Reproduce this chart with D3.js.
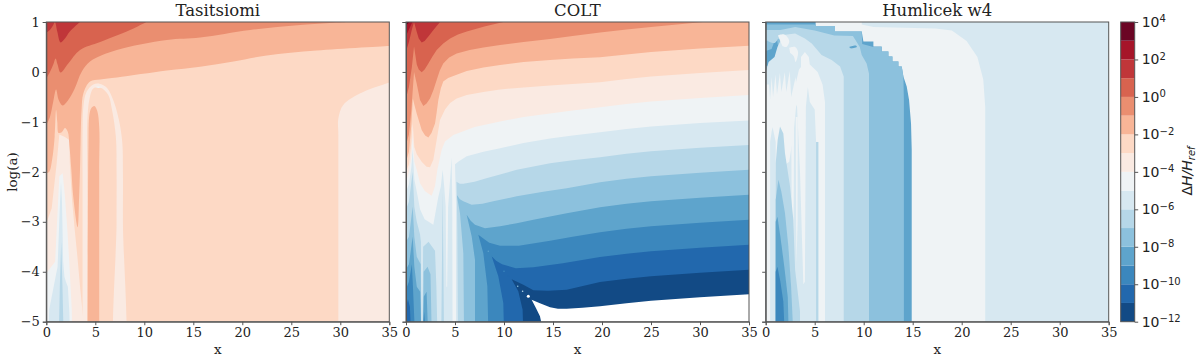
<!DOCTYPE html>
<html>
<head>
<meta charset="utf-8">
<script src="https://cdn.jsdelivr.net/npm/d3@7"></script>
<style>
  html, body { margin: 0; padding: 0; background: #fff; }
  svg { display: block; }
  text { font-family: "DejaVu Serif", serif; fill: #222; }
  .domain, .tick line { stroke: #555; }
</style>
</head>
<body>
<div id="chart"></div>
<script>

//==================================== data ====================================

var titles = ["Tasitsiomi", "COLT", "Humlicek w4"];
var xTicks = [0, 5, 10, 15, 20, 25, 30, 35];
var yTicks = [1, 0, -1, -2, -3, -4, -5];
var barTicks = [4, 2, 0, -2, -4, -6, -8, -10, -12];
var barLevels = d3.range(-12, 4);   // log10(dH/Href) at the bottom of each band

// every boundary is [x, log(a)], the side above it is >= the named level

// Tasitsiomi
var tasGe1 = [[0,.79],[.37,.84],[.71,.94],[.88,1],[1.12,.81],[1.46,.59],[1.9,.67],[2.4,.81],[3.44,1]];
var tasGe0 = [[0,-.13],[.37,0],[.71,.15],[.95,.27],[1.15,.15],[1.46,-.01],[2.24,.17],[3.44,.44],[5.5,.6],[8.9,.87],[10.2,1]];
var tasGeM1 = [[0,-1.06],[.37,-.9],[.7,-.6],[1,-.35],[1.25,-.55],[1.67,-.67],[2.24,-.56],[2.9,-.33],[3.6,0],[4.46,.21],[7.2,.44],[12.3,.64],[15.7,.69],[20.8,.84],[25.9,.94],[30.7,1]];
var tasGeM2 = [[0,-2.03],[.3,-2],[.6,-1.75],[.85,-1.3],[1,-.76],[1.12,-1],[1.25,-1.22],[1.6,-1.2],[1.9,-1.12],[2.2,-1.2],[2.35,-1.45],[2.55,-1.95],[2.75,-2.5],[3.2,-3.11],[3.35,-2.5],[3.44,-1.95],[3.5,-1.4],[3.6,-.76],[3.78,-.43],[4.46,-.19],[5.5,-.15],[7.2,-.11],[12.3,.03],[15.7,.106],[19.1,.21],[22.5,.33],[27.6,.43],[35,.52]];

// closed patches of Tasitsiomi, level is the band bottom
var tasCorner = [[29.8,-6],[29.8,-3],[29.8,-1.27],[29.8,-.93],[30.3,-.66],[32,-.43],[35,-.21],[36,-.15],[36,-6]];
var tasArch = [[3.7,-6],[3.7,-2],[3.7,-1.2],[3.78,-.7],[4.1,-.4],[4.8,-.25],[5.5,-.24],[6.2,-.32],[6.9,-.6],[7.4,-.95],[7.75,-1.4],[7.82,-2],[7.82,-3],[7.82,-6],[7.17,-6],[7.17,-3],[7.17,-2],[7.1,-1.3],[6.7,-.75],[6.3,-.45],[5.5,-.31],[4.8,-.33],[4.4,-.55],[4.18,-1],[4.18,-2],[4.18,-6]];
var tasSpeck = [[4.9,-.3],[5.3,-.29],[5.7,-.3],[5.3,-.32]];
var tasBar = [[4.2,-6],[4.25,-3],[4.3,-1.5],[4.4,-.85],[4.6,-.72],[4.9,-.68],[5.2,-.78],[5.4,-1.1],[5.4,-2],[5.4,-6]];
var tasPlume4 = [[0,-6],[0,-3.03],[.55,-2.73],[1.06,-1.83],[1.33,-1.25],[1.9,-1.3],[2.35,-1.36],[2.4,-1.83],[2.6,-2.5],[2.9,-3.16],[3.17,-3.69],[3.44,-4.29],[3.78,-4.96],[3.8,-6]];
var tasPlume5 = [[0,-6],[0,-4.03],[.55,-3.89],[.9,-3.8],[1.06,-3.16],[1.33,-2.09],[1.67,-2.03],[1.9,-2.49],[2.15,-3.16],[2.35,-3.83],[2.6,-4.76],[2.7,-6]];
var tasPlume6 = [[.1,-6],[.3,-4.75],[.7,-4.35],[1.15,-3.9],[1.4,-2.6],[1.5,-2.2],[1.6,-2.6],[1.72,-3.8],[1.85,-4.1],[2,-4.2],[2.2,-4.3],[2.35,-4.8],[2.5,-6]];
var tasPlume7 = [[1.2,-6],[1.38,-4.3],[1.52,-3.4],[1.65,-4.3],[1.85,-6]];

// COLT
var coltGe3 = [[0,.93],[.2,.97],[.35,1]];
var coltGe2 = [[0,.72],[.3,.85],[.65,1]];
var coltGe1 = [[0,.41],[.3,.6],[.6,.85],[.82,1],[1.1,.8],[1.3,.67],[1.6,.59],[1.9,.62],[2.28,.71],[2.8,.84],[3.47,1]];
var coltGe0 = [[0,-.53],[.3,-.3],[.6,.1],[.82,.51],[1.1,.15],[1.3,.05],[1.6,-.007],[1.9,.05],[2.28,.17],[2.7,.31],[3.13,.44],[3.8,.57],[4.5,.67],[5.3,.75],[6.2,.81],[8,.91],[9.93,1]];
var coltGeM1 = [[0,-1.46],[.3,-1.25],[.55,-.75],[.82,0],[1.09,-.23],[1.43,-.56],[1.77,-.68],[2.1,-.63],[2.45,-.53],[2.8,-.36],[3.13,-.16],[3.45,.03],[3.8,.17],[4.4,.29],[5.17,.37],[6.5,.44],[7.9,.49],[9.6,.54],[12,.6],[14.7,.66],[17,.72],[19.8,.79],[22.5,.85],[25,.9],[30.3,1]];
var coltGeM2 = [[0,-1.8],[.3,-1.6],[.55,-1.05],[.7,-.53],[.85,-.65],[1.09,-.83],[1.6,-1.16],[1.95,-1.27],[2.28,-1.31],[2.6,-1.22],[2.96,-1.03],[3.1,-.85],[3.3,-.56],[3.55,-.33],[3.8,-.19],[4.3,-.12],[4.83,-.08],[6.2,.02],[7.9,.09],[9.6,.14],[12,.2],[14.7,.24],[17,.27],[19.8,.293],[22.5,.35],[25,.4],[30,.47],[35,.527]];
var coltGeM3 = [[0,-2],[.3,-1.85],[.55,-1.4],[.68,-1],[.85,-1.5],[1.1,-1.65],[1.6,-1.8],[2.1,-1.9],[2.45,-1.91],[2.79,-1.76],[3.13,-1.36],[3.47,-.96],[3.98,-.75],[4.5,-.62],[5.17,-.53],[6.2,-.46],[7.9,-.4],[9.6,-.35],[12,-.31],[14.7,-.27],[17,-.24],[19.8,-.207],[22.5,-.14],[25,-.09],[30,-.02],[35,.04]];
var coltGeM4 = [[0,-2.2],[.3,-2],[.55,-1.7],[.68,-1.3],[.85,-1.8],[1.09,-1.96],[1.43,-2.23],[1.94,-2.39],[2.62,-2.48],[2.96,-2.29],[3.2,-1.96],[3.64,-1.56],[3.98,-1.39],[4.83,-1.26],[7,-1.1],[9.6,-.99],[12,-.9],[14.7,-.83],[17,-.77],[19.8,-.707],[22.5,-.64],[25,-.59],[30,-.52],[35,-.46]];
var coltGeM5 = [[0,-2.4],[.3,-2.25],[.55,-1.9],[.68,-1.55],[.85,-2.15],[1.2,-2.5],[1.43,-2.75],[1.9,-2.95],[2.79,-3.06],[3.06,-2.76],[3.3,-2.5],[3.55,-2.3],[3.74,-1.96],[3.9,-2.3],[4.05,-2.7],[4.12,-4.3],[4.2,-4.3],[4.3,-2.7],[4.66,-1.71],[4.72,-2.6],[4.75,-5.2],[5.1,-5.2],[5.1,-2.6],[5,-1.85],[5.4,-1.79],[6.2,-1.69],[7.9,-1.6],[9.6,-1.53],[12,-1.42],[14.7,-1.33],[17,-1.27],[19.8,-1.207],[22.5,-1.14],[25,-1.09],[30,-1.02],[35,-.97]];
var coltGeM6 = [[0,-2.75],[.3,-2.6],[.68,-2],[.85,-2.7],[1.1,-3],[1.43,-3.25],[1.52,-3.4],[1.58,-5.2],[1.68,-5.2],[1.75,-3.5],[2.3,-3.4],[2.96,-3.58],[3.1,-4.3],[3.2,-5.2],[3.6,-5.2],[3.68,-3.6],[3.74,-2.4],[3.8,-3.6],[3.88,-5.2],[5.3,-5.2],[5.24,-3.29],[5.2,-2.63],[5.15,-2.2],[5.5,-2.24],[5.85,-2.24],[7,-2.2],[8.2,-2.13],[11.3,-1.96],[14.7,-1.83],[17,-1.77],[19.8,-1.707],[22.5,-1.64],[25,-1.59],[30,-1.52],[35,-1.46]];
var coltGeM7 = [[0,-3.4],[.3,-3.3],[.68,-2.7],[.85,-3.3],[1.1,-3.7],[1.5,-3.85],[1.55,-5.2],[1.72,-5.2],[1.8,-4],[2.2,-3.9],[2.5,-4.05],[2.62,-5.2],[5.92,-5.2],[5.85,-3.63],[5.51,-2.83],[5.17,-2.46],[5.5,-2.55],[5.85,-2.59],[6.7,-2.66],[7.8,-2.64],[8.9,-2.59],[11.3,-2.49],[14,-2.4],[16.4,-2.33],[19.8,-2.207],[22.5,-2.14],[25,-2.09],[30,-2.02],[35,-1.96]];
var coltGeM8 = [[0,-3.95],[.3,-3.85],[.68,-3.3],[.85,-3.9],[1.1,-4.3],[1.45,-4.4],[1.55,-5.2],[1.72,-5.2],[1.8,-4.5],[2.1,-4.4],[2.25,-5.2],[7.04,-5.2],[7.04,-3.76],[6.7,-3.29],[6.19,-2.86],[6.6,-2.98],[7.04,-3.06],[8.06,-3.13],[9.6,-3.09],[11.3,-3.03],[13,-2.96],[16.4,-2.83],[19.8,-2.707],[22.5,-2.64],[25,-2.59],[30,-2.52],[35,-2.46]];
var coltGeM9 = [[0,-4.35],[.3,-4.2],[.6,-3.85],[.72,-4.35],[.9,-5.2],[1.75,-5.2],[1.85,-4.8],[2,-5.2],[8.4,-5.2],[8.3,-4.29],[7.89,-3.63],[7.38,-3.26],[8,-3.35],[8.5,-3.42],[9.6,-3.48],[11.5,-3.48],[14.7,-3.38],[17,-3.3],[19.8,-3.207],[22.5,-3.14],[25,-3.09],[30,-3.02],[35,-2.96]];
var coltGeM10 = [[0,-4.7],[.2,-4.55],[.4,-4.7],[.5,-5.2],[10,-5.2],[9.93,-4.63],[9.42,-4.09],[8.74,-3.69],[9.2,-3.78],[9.8,-3.85],[11.2,-3.93],[13,-3.91],[16,-3.83],[19.8,-3.707],[22.5,-3.64],[25,-3.59],[30,-3.52],[35,-3.46]];
var coltGeM11 = [[0,-5.2],[11.97,-5.2],[11.9,-4.76],[11.46,-4.39],[10.78,-4.15],[11.97,-4.26],[13,-4.37],[14.5,-4.38],[16.4,-4.36],[19.8,-4.207],[22.5,-4.14],[25,-4.09],[30,-4.02],[35,-3.96]];
var coltGeM12 = [[0,-5.2],[14.01,-5.2],[13.67,-4.89],[13.27,-4.73],[12.82,-4.56],[13.67,-4.63],[14.7,-4.71],[15.5,-4.74],[16.4,-4.74],[18,-4.72],[19.8,-4.69],[22.5,-4.63],[25,-4.58],[30,-4.51],[35,-4.45]];

// isolated specks along the COLT ridge: x, log(a), band bottom
var coltSpecksX = [12.48, 11.9, 11.4, 10.44, 10, 8.8, 8.4];
var coltSpecksY = [-4.49, -4.39, -4.29, -4.09, -3.99, -3.69, -3.59];
var coltSpecksLevel = [-13, -7, -8, -11, -10, -10, -9];

// Humlicek w4, stepped because of the coarse grid of the original
var humTopStrip = [[9.8,.95],[11,.9],[17.3,.87],[19,.83],[20.5,.62],[21.6,.3],[22.2,-.15],[22.4,-.7],[22.4,-6],[36,-6],[36,2],[10,2]];
var humStair = [[0,2],[5.03,2],[5.1,.92],[7.07,.92],[7.07,.81],[9.8,.81],[9.97,.61],[10.99,.61],[10.99,.51],[11.84,.51],[11.84,.41],[12.52,.41],[12.52,.31],[12.93,.31],[12.93,.21],[13.54,.21],[13.54,.11],[13.88,.11],[14.05,-.09],[14.39,-.29],[14.63,-.56],[14.83,-1.03],[14.9,-1.56],[14.9,-6],[0,-6]];
var hum8 = [[0,.95],[5,.95],[5.1,.92],[7.07,.92],[7.07,.81],[9.8,.81],[9.85,.56],[10.99,.5],[11.84,.5],[11.84,.41],[12.52,.41],[12.52,.31],[12.93,.31],[12.93,.21],[13.54,.21],[13.54,.11],[13.88,.11],[14.05,-.09],[14.1,-.56],[14.1,-6],[0,-6]];
var hum7 = [[0,.84],[1.5,.84],[3,.9],[5,.83],[7,.73],[8.9,.72],[9.6,.5],[9.8,.34],[10.3,.17],[10.54,-.03],[10.54,-6],[0,-6]];
var hum8Star = [[0,.62],[1.5,.66],[2.4,.5],[2.9,.45],[2.3,.25],[1.9,-.1],[0,-.1]];
var hum9Star = [[0,.42],[.6,.46],[1.1,.72],[1.3,.47],[1.8,.42],[1.35,.3],[1.2,-.02],[.95,.25],[.5,.12],[0,.12]];
var hum9Speck = [[8.5,.5],[9.2,.53],[9.3,.5],[8.7,.47]];
var hum6 = [[0,.0],[.3,.2],[.9,.3],[1.2,.5],[1.8,.74],[3,.77],[4,.67],[4.7,.57],[5.7,.34],[6.73,.24],[7.59,.11],[7.96,-.09],[7.96,-6],[0,-6]];
var hum6Blob = [[.1,.8],[1,.82],[1.3,.7],[.9,.58],[.2,.62]];
var hum5Blob1 = [[1.25,.73],[1.9,.75],[2.4,.62],[2.1,.5],[1.7,.52]];
var hum5Blob2 = [[2.4,.48],[3,.5],[3.3,.4],[3.05,.2],[2.85,.32],[2.5,.38]];
var hum5Body = [[3,-.6],[3.1,-.2],[3.4,.05],[3.6,.1],[3.6,.3],[4,.4],[4.4,.3],[4.5,.15],[5.3,0],[5.8,-.25],[6.05,-.6],[6.05,-6],[5.37,-6],[5.37,-1.4],[5.14,-1.4],[5,-.75],[4.5,-.6],[4.3,-.3],[4.1,-.7],[4,-4.2],[3.84,-4.25],[3.5,-2],[3.27,-1],[3.2,-.7]];
var hum7Slit = [[5.14,-6],[5.14,-1.4],[5.37,-1.4],[5.37,-6]];
var hum5Fingers = [[0,-6],[0,-.25],[.35,-.25],[.45,-.55],[.6,-.1],[.75,-.5],[1,-.05],[1.15,-.45],[1.45,-.02],[1.6,-.4],[1.95,0],[2.1,-.4],[2.45,.02],[2.6,-.5],[3.05,-.1],[3.2,-.5],[2.8,-1.3],[2.4,-1.8],[1,-2],[1,-6]];
var hum6Strip = [[.45,-6],[.45,-1.4],[.6,-1.2],[.7,-1.1],[1.02,-1.4],[1.02,-6]];
var hum5Streak1 = [[2.6,-.9],[2.9,-.9],[2.85,-2.8],[2.72,-4.2],[2.66,-3]];
var hum5Streak2 = [[3.06,-.9],[3.27,-.9],[3.25,-3],[3.15,-3.85],[3.1,-2.8]];
var humWedge7 = [[1.02,-6],[1.02,-1.83],[1.22,-1.36],[1.46,-1.09],[1.8,-1.23],[1.97,-1.63],[2.48,-2.29],[2.82,-2.96],[3,-3.96],[3.5,-4.79],[3.5,-6]];
var humWedge8 = [[1.02,-6],[1.02,-2.56],[1.3,-2.16],[1.6,-2.4],[1.97,-2.83],[2.31,-3.49],[2.59,-4.29],[3,-6]];
var humWedge9 = [[1.02,-6],[1.02,-3],[1.2,-2.9],[1.5,-3.3],[1.9,-3.9],[2.25,-4.5],[2.45,-6]];
var humWedge10 = [[1.02,-6],[1.02,-4],[1.2,-3.9],[1.5,-4.2],[1.8,-4.6],[2.1,-6]];

//================================== settings ==================================

// bottom to top of the colorbar, same order as barLevels
var bandColors = ["#124a85","#2268ad","#3b87bd","#5ea4cc","#8cc1dd","#b6d7e8","#d7e8f1","#eff3f5",
                  "#faeae2","#fdd9c5","#f8b597","#ea8e70","#d8634f","#c03639","#a61529","#6b0524"];

var band = d3.scaleQuantize().domain([-12, 4]).range(bandColors);
function bandColor(level){ return level < -12 ? "#fff" : band(level + 0.5); }

var plotTop = 22, plotBottom = 321.7, plotW = 343;
var plotLefts = [46.3, 406, 765.7];
var barLeft = 1120.7, barRight = 1134.7;

var svg = d3.select("#chart").append("svg").attr("width", 1200).attr("height", 359);

var y = d3.scaleLinear().domain([-5, 1]).range([plotBottom, plotTop]);

var smooth = d3.curveCatmullRom.alpha(0.5);

//=================================== panels ===================================

var panel = function(i, draw){

    var x = d3.scaleLinear().domain([0, 35]).range([0, plotW]);

    var g = svg.append("g").attr("transform", "translate(" + plotLefts[i] + ",0)");

    var clipId = "clip" + i;
    g.append("clipPath").attr("id", clipId).append("rect")
        .attr("x", 0).attr("y", plotTop)
        .attr("width", plotW).attr("height", plotBottom - plotTop);

    var marks = g.append("g").attr("clip-path", "url(#" + clipId + ")");

    // fill everything above a boundary with the band colour
    var above = function(level, points, curve){
        var line = d3.line().x(d => x(d[0])).y(d => y(d[1])).curve(curve || smooth);
        marks.append("path")
            .attr("d", line(points) + "L" + x(35) + "," + y(1) + "L" + x(0) + "," + y(1) + "Z")
            .attr("fill", bandColor(level));
    };
    var patch = function(level, points, curve){
        var line = d3.line().x(d => x(d[0])).y(d => y(d[1])).curve(curve || smooth);
        marks.append("path").attr("d", line(points) + "Z").attr("fill", bandColor(level));
    };
    var full = function(level){
        marks.append("rect").attr("x", 0).attr("y", plotTop)
            .attr("width", plotW).attr("height", plotBottom - plotTop)
            .attr("fill", bandColor(level));
    };

    draw(above, patch, full, marks, x);

    // axes
    var xAxis = d3.axisBottom(x).tickValues(xTicks).tickFormat(d3.format("d")).tickSize(3.5).tickPadding(3);
    var xg = g.append("g").attr("transform", "translate(0," + plotBottom + ")").call(xAxis);
    xg.selectAll("text").attr("font-size", 13).attr("font-family", "DejaVu Serif");

    var yAxis = d3.axisLeft(y).tickValues(yTicks).tickFormat(i === 0 ? d3.format("d") : "").tickSize(3.5).tickPadding(3);
    var yg = g.append("g").call(yAxis);
    yg.selectAll("text").attr("font-size", 13).attr("font-family", "DejaVu Serif");

    g.append("rect").attr("x", 0).attr("y", plotTop)
        .attr("width", plotW).attr("height", plotBottom - plotTop)
        .attr("fill", "none").attr("stroke", "#555");

    g.append("text").attr("x", plotW / 2).attr("y", 16)
        .attr("text-anchor", "middle").attr("font-size", 16.5).text(titles[i]);

    g.append("text").attr("x", plotW / 2).attr("y", 354)
        .attr("text-anchor", "middle").attr("font-size", 13.5).text("x");
};

panel(0, function(above, patch, full){
    full(-3);
    patch(-4, tasCorner);
    patch(-4, tasPlume4, d3.curveLinear);
    patch(-5, tasPlume5, d3.curveLinear);
    patch(-6, tasPlume6, d3.curveLinear);
    patch(-7, tasPlume7, d3.curveLinear);
    patch(-4, tasArch);
    patch(-5, tasSpeck);
    patch(-2, tasBar);
    above(-2, tasGeM2);
    above(-1, tasGeM1);
    above(0, tasGe0);
    above(1, tasGe1);
});

panel(1, function(above, patch, full, marks, x){
    [[-12, coltGeM12], [-11, coltGeM11], [-10, coltGeM10], [-9, coltGeM9], [-8, coltGeM8],
     [-7, coltGeM7], [-6, coltGeM6], [-5, coltGeM5], [-4, coltGeM4], [-3, coltGeM3], [-2, coltGeM2],
     [-1, coltGeM1], [0, coltGe0], [1, coltGe1], [2, coltGe2], [3, coltGe3]].forEach(function(b){
        above(b[0], b[1], d3.curveLinear);
    });
    marks.selectAll("circle.speck").data(coltSpecksX).enter().append("circle")
        .attr("class", "speck")
        .attr("cx", d => x(d))
        .attr("cy", (d, i) => y(coltSpecksY[i]))
        .attr("r", (d, i) => i === 0 ? 1.5 : 0.8)
        .attr("fill", (d, i) => bandColor(coltSpecksLevel[i]));
});

panel(2, function(above, patch, full){
    var step = d3.curveLinear;
    full(-5);
    patch(-6, humTopStrip, step);
    patch(-9, humStair, step);
    patch(-8, hum8, step);
    patch(-7, hum7, step);
    patch(-8, hum8Star);
    patch(-9, hum9Star, step);
    patch(-9, hum9Speck);
    patch(-6, hum6, step);
    patch(-7, hum6Blob);
    patch(-5, hum5Blob1);
    patch(-5, hum5Blob2);
    patch(-5, hum5Body, step);
    patch(-7, hum7Slit, step);
    patch(-5, hum5Fingers, step);
    patch(-6, hum6Strip, step);
    patch(-5, hum5Streak1, step);
    patch(-5, hum5Streak2, step);
    patch(-7, humWedge7, step);
    patch(-8, humWedge8, step);
    patch(-9, humWedge9, step);
    patch(-10, humWedge10, step);
});

svg.append("text")
    .attr("transform", "translate(17,172) rotate(-90)")
    .attr("text-anchor", "middle").attr("font-size", 13.5).text("log(a)");

//=================================== colorbar ==================================

var barY = d3.scaleLog().domain([1e-12, 1e4]).range([plotBottom, plotTop]);

svg.selectAll("rect.band").data(barLevels).enter().append("rect")
    .attr("class", "band")
    .attr("x", barLeft)
    .attr("width", barRight - barLeft)
    .attr("y", d => barY(Math.pow(10, d + 1)))
    .attr("height", d => barY(Math.pow(10, d)) - barY(Math.pow(10, d + 1)))
    .attr("fill", d => bandColor(d));

svg.append("rect").attr("x", barLeft).attr("y", plotTop)
    .attr("width", barRight - barLeft).attr("height", plotBottom - plotTop)
    .attr("fill", "none").attr("stroke", "#555");

var barAxis = d3.axisRight(barY)
    .tickValues(barTicks.map(d => Math.pow(10, d)))
    .tickFormat("").tickSize(3.5);
var barG = svg.append("g").attr("transform", "translate(" + barRight + ",0)").call(barAxis);
barG.select(".domain").remove();

barG.selectAll(".tick").each(function(d){
    var t = d3.select(this).append("text")
        .attr("x", 7).attr("dy", "0.32em").attr("text-anchor", "start")
        .style("font-family", "DejaVu Sans").attr("font-size", 14);
    t.append("tspan").text("10");
    t.append("tspan").attr("dy", "-0.45em").attr("font-size", 10)
        .text(String(Math.round(Math.log10(d))).replace("-", "\u2212"));
});

var label = svg.append("text")
    .attr("transform", "translate(1192,171) rotate(-90)")
    .attr("text-anchor", "middle")
    .style("font-family", "DejaVu Sans").attr("font-size", 14);
label.append("tspan").text("\u0394");
label.append("tspan").attr("font-style", "italic").text("H/H");
label.append("tspan").attr("font-style", "italic").attr("font-size", 10).attr("dy", 3).text("ref");

</script>
</body>
</html>
